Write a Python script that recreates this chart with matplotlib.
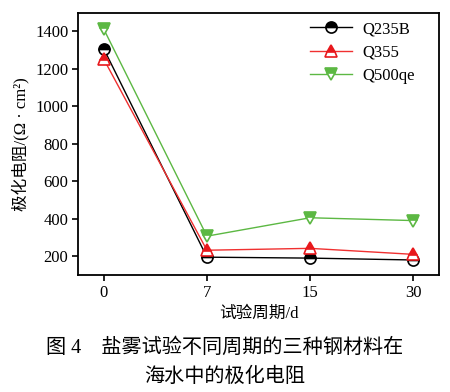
import matplotlib
matplotlib.use("Agg")
import matplotlib.pyplot as plt

plt.rcParams['font.family'] = ['Liberation Serif', 'Noto Sans CJK SC']

periods = ["0", "7", "15", "30"]
q235b = [1305, 195, 190, 180]
q355 = [1250, 232, 242, 210]
q500qe = [1410, 307, 405, 390]
yticks = [200, 400, 600, 800, 1000, 1200, 1400]

fig = plt.figure(figsize=(4.5, 3.92), dpi=100)
ax = fig.add_axes([78/450, 1-275/392, (439-78)/450, (275-13)/392])

x = list(range(len(periods)))
ax.plot(x, q235b, color='black', lw=1.0, marker='o', ms=8, fillstyle='top',
        markerfacecolor='black', markerfacecoloralt='white', markeredgecolor='black', mew=1.2, label='Q235B')
ax.plot(x, q355, color='#f03030', lw=1.0, marker='^', ms=9, fillstyle='top',
        markerfacecolor='#e8181c', markerfacecoloralt='white', markeredgecolor='#e8181c', mew=1.2, label='Q355')
ax.plot(x, q500qe, color='#5cb843', lw=1.0, marker='v', ms=9, fillstyle='top',
        markerfacecolor='#5cb843', markerfacecoloralt='white', markeredgecolor='#5cb843', mew=1.2, label='Q500qe')

ax.set_xlim(-0.25, 3.25)
ax.set_ylim(100, 1496)
ax.set_xticks(x)
ax.set_xticklabels(periods)
ax.set_yticks(yticks)
ax.tick_params(direction='out', length=4, width=1.2, labelsize=12, colors='black', pad=3)
for s in ax.spines.values():
    s.set_linewidth(1.3)

ax.set_ylabel('极化电阻/(Ω · cm²)', fontsize=12, labelpad=4)
ax.set_xlabel('试验周期/d', fontsize=12, labelpad=4)

leg = ax.legend(loc='upper right', bbox_to_anchor=(0.955, 1.0), frameon=False, fontsize=12,
                handlelength=2.5, borderaxespad=0.1, labelspacing=0.45, handletextpad=0.6)

fig.text(0.5, 1-348/392, '图 4　盐雾试验不同周期的三种钢材料在', ha='center', va='center', fontsize=14.5)
fig.text(0.5, 1-377/392, '海水中的极化电阻', ha='center', va='center', fontsize=14.5)

fig.savefig('out.png', dpi=100)
